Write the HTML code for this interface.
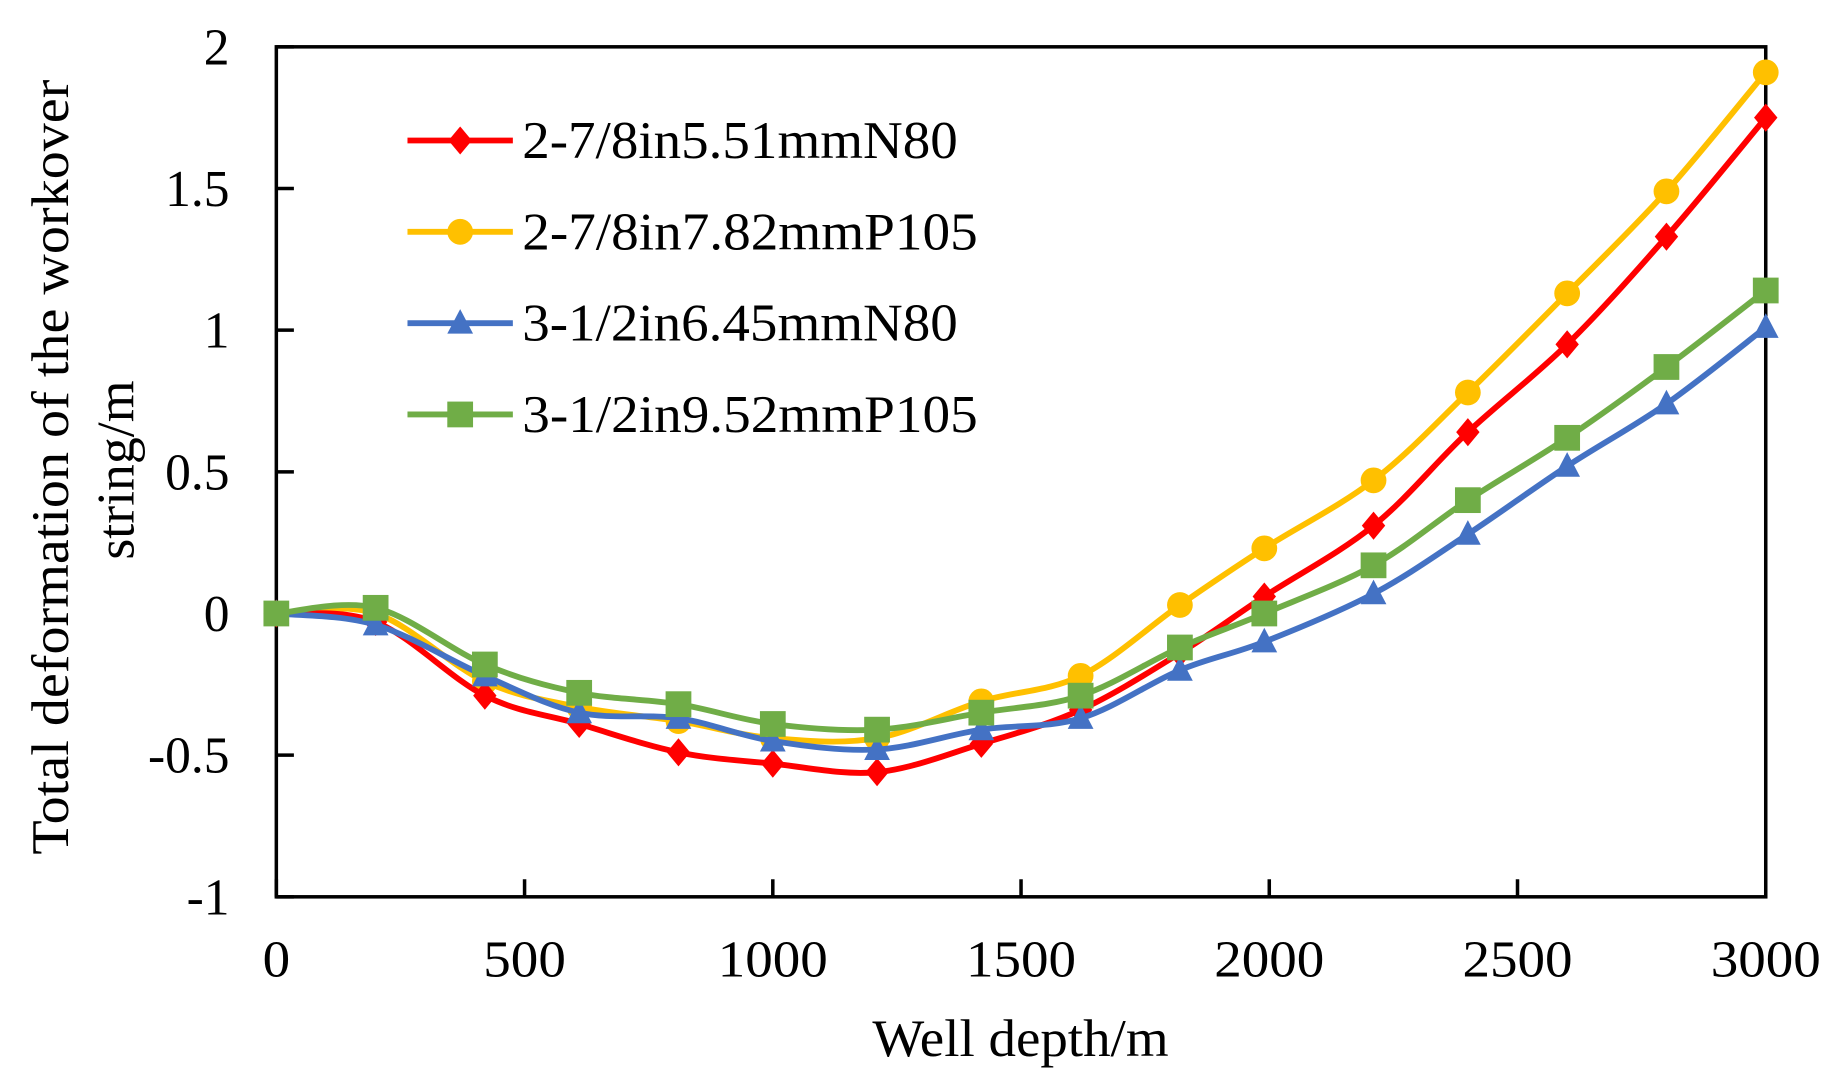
<!DOCTYPE html>
<html><head><meta charset="utf-8"><style>html,body{margin:0;padding:0;background:#fff}svg{display:block}</style></head>
<body>
<svg id="chart" width="1836" height="1090" viewBox="0 0 1568 931" preserveAspectRatio="none" xmlns="http://www.w3.org/2000/svg" font-family="'Liberation Serif', serif"></svg>
<script>
const depths=[0,200,420,610,810,1000,1210,1420,1620,1820,1990,2210,2400,2600,2800,3000];
const red=[0,-0.03,-0.29,-0.39,-0.49,-0.53,-0.56,-0.46,-0.34,-0.14,0.06,0.31,0.64,0.95,1.33,1.75];
const yellow=[0,0,-0.24,-0.33,-0.38,-0.44,-0.44,-0.31,-0.22,0.03,0.23,0.47,0.78,1.13,1.49,1.91];
const blue=[0,-0.04,-0.22,-0.35,-0.37,-0.45,-0.48,-0.41,-0.37,-0.2,-0.1,0.07,0.28,0.52,0.74,1.01];
const green=[0,0.02,-0.18,-0.28,-0.32,-0.39,-0.41,-0.35,-0.29,-0.12,0.0,0.17,0.40,0.62,0.87,1.14];
const xTicks=[0,500,1000,1500,2000,2500,3000];
const yTicks=[-1,-0.5,0,0.5,1,1.5,2];
const seriesNames=["2-7/8in5.51mmN80","2-7/8in7.82mmP105","3-1/2in6.45mmN80","3-1/2in9.52mmP105"];

const L=236,R=1508,T=40,B=766;
const X=v=>L+(v-0)/(3000)*(R-L);
const Y=v=>B-(v+1)/3*(B-T);
const svg=document.getElementById('chart');
const NS='http://www.w3.org/2000/svg';
function mk(tag,attrs,parent){const e=document.createElementNS(NS,tag);for(const k in attrs)e.setAttribute(k,attrs[k]);(parent||svg).appendChild(e);return e;}

const frame=mk('rect',{x:L,y:T,width:R-L,height:B-T,fill:'none',stroke:'#000','stroke-width':3});



xTicks.forEach(t=>{
  const tk=mk('line',{x1:X(t),x2:X(t),y1:B,y2:B-15,stroke:'#000','stroke-width':3});
  
  
  const tx=mk('text',{x:X(t),y:B+68,'text-anchor':'middle','font-size':44,textLength:String(t).length*23.5,lengthAdjust:'spacingAndGlyphs'});
  tx.textContent=t;
  
  
});
yTicks.forEach(t=>{
  const tk=mk('line',{x1:L,x2:L+15,y1:Y(t),y2:Y(t),stroke:'#000','stroke-width':3});
  
  
  const tx=mk('text',{x:196,y:Y(t)+15,'text-anchor':'end','font-size':44});
  tx.textContent=String(t);
  
  
});

const xt=mk('text',{x:745,y:902,'font-size':45,textLength:253,lengthAdjust:'spacingAndGlyphs'});
xt.textContent='Well depth/m';


const yt=mk('text',{transform:'translate(58,730) rotate(-90)','font-size':45,textLength:662,lengthAdjust:'spacingAndGlyphs'});
yt.textContent='Total deformation of the workover';


const yt2=mk('text',{transform:'translate(114,478) rotate(-90)','font-size':45,textLength:153,lengthAdjust:'spacingAndGlyphs'});
yt2.textContent='string/m';



function smooth(pts){
  let d=`M${pts[0][0]},${pts[0][1]}`;
  for(let i=0;i<pts.length-1;i++){
    const p0=pts[Math.max(0,i-1)],p1=pts[i],p2=pts[i+1],p3=pts[Math.min(pts.length-1,i+2)];
    const c1=[p1[0]+(p2[0]-p0[0])/6,p1[1]+(p2[1]-p0[1])/6];
    const c2=[p2[0]-(p3[0]-p1[0])/6,p2[1]-(p3[1]-p1[1])/6];
    d+=` C${c1[0]},${c1[1]} ${c2[0]},${c2[1]} ${p2[0]},${p2[1]}`;
  }
  return d;
}
function marker(shape,x,y,color,g){
  if(shape==='diamond') return mk('polygon',{points:`${x},${y-12} ${x+10},${y} ${x},${y+12} ${x-10},${y}`,fill:color},g);
  if(shape==='circle') return mk('circle',{cx:x,cy:y,r:11,fill:color},g);
  if(shape==='triangle') return mk('polygon',{points:`${x},${y-12} ${x+11},${y+9} ${x-11},${y+9}`,fill:color},g);
  return mk('rect',{x:x-11,y:y-11,width:22,height:22,fill:color},g);
}
const series=[[red,'#ff0000','diamond'],[yellow,'#ffc000','circle'],[blue,'#4472c4','triangle'],[green,'#70ad47','square']];
const order=[1,0,2,3];
order.forEach(i=>{
  const [vals,color,shape]=series[i];
  const g=mk('g',{});
  
  
  const pts=depths.map((d,j)=>[X(d),Y(vals[j])]);
  const p=mk('path',{d:smooth(pts),fill:'none',stroke:color,'stroke-width':5},g);
  
  
  pts.forEach(pt=>{
    const m=marker(shape,pt[0],pt[1],color,g);
    
    
  });
});

const legY=[120,198,276,354];
const legLen=[372,389,372,389];
series.forEach((s,i)=>{
  const g=mk('g',{});
  
  
  mk('line',{x1:348,x2:438,y1:legY[i],y2:legY[i],stroke:s[1],'stroke-width':5},g);
  marker(s[2],393,legY[i],s[1],g);
  const t=mk('text',{x:446,y:legY[i]+15,'font-size':45,textLength:legLen[i],lengthAdjust:'spacingAndGlyphs'},g);
  t.textContent=seriesNames[i];
});
</script>
</body></html>
